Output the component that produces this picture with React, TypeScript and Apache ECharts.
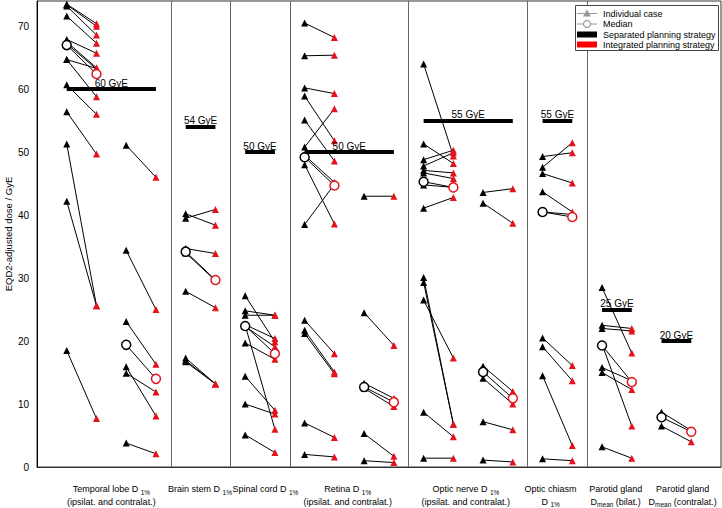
import React, { useEffect, useRef } from 'react';
import * as echarts from 'echarts';

// x position of the "separated" value in each group; the "integrated" value sits at +1
const groupPositions = [0, 2, 4, 6, 8, 10, 12, 14, 16, 18, 20];

// Individual cases: separated planning strategy (per group)
const separatedValues: number[][] = [
  [73.5, 73.4, 73.2, 71.6, 67.9, 67.5, 67.2, 64.7, 64.7, 60.7, 56.4, 51.3, 42.2, 18.5],
  [51.1, 34.4, 23.1, 15.9, 14.9, 3.8],
  [40.2, 39.5, 34.7, 34.0, 27.9, 17.3, 16.9, 16.7],
  [27.2, 24.8, 24.1, 22.6, 22.3, 22.5, 19.7, 14.4, 10.0, 5.1],
  [70.5, 65.3, 60.2, 58.9, 55.1, 50.8, 49.5, 48.0, 38.5, 23.3, 21.7, 21.2, 7.0, 2.0],
  [43.0, 24.5, 13.3, 12.5, 5.3, 1.0],
  [64.0, 51.3, 48.8, 47.8, 47.1, 46.7, 44.8, 41.1, 30.1, 29.3, 26.5, 8.7, 1.4],
  [43.6, 41.9, 16.0, 14.1, 7.2, 1.1],
  [49.3, 47.6, 46.6, 43.7, 40.5, 20.5, 19.1, 14.5, 1.3],
  [28.5, 22.5, 22.0, 19.5, 15.8, 15.0, 3.2],
  [8.7, 6.5],
];

// Individual cases: integrated planning strategy (same order)
const integratedValues: number[][] = [
  [70.4, 70.0, 68.6, 67.3, 65.7, 63.4, 63.2, 63.3, 58.8, 56.0, 49.7, 25.6, 25.6, 7.7],
  [46.0, 25.0, 16.3, 8.1, 11.9, 2.1],
  [38.4, 40.9, 33.9, 29.6, 25.3, 13.2, 13.2, 13.2],
  [19.9, 24.1, 24.1, 20.4, 19.1, 6.0, 17.1, 9.0, 8.4, 2.3],
  [68.2, 65.4, 59.3, 51.8, 48.6, 56.9, 45.2, 38.6, 44.9, 18.0, 15.1, 14.8, 4.7, 1.6],
  [43.0, 19.3, 10.9, 9.6, 1.7, 0.7],
  [49.4, 48.2, 50.3, 49.9, 46.7, 45.8, 44.4, 42.8, 6.8, 6.8, 17.3, 4.8, 1.4],
  [44.2, 38.7, 12.0, 10.0, 5.9, 0.8],
  [49.9, 51.5, 45.1, 40.5, 40.1, 16.1, 13.7, 3.4, 1.0],
  [18.1, 22.0, 21.6, 6.5, 13.7, 12.3, 1.4],
  [5.8, 4.0],
];

const medianSeparated = [67.0, 19.4, 34.2, 22.4, 49.2, 12.7, 45.3, 15.1, 40.5, 19.3, 7.9];
const medianIntegrated = [62.4, 14.0, 29.7, 18.0, 44.7, 10.3, 44.4, 10.9, 39.7, 13.5, 5.6];

const thresholdValues = [60, 54, 50, 50, 55, 55, 25, 20];
const thresholdFrom = [0, 4, 6, 8, 12, 16, 18, 20];
const thresholdTo = [3, 5, 7, 11, 15, 17, 19, 21];
const thresholdLabels = ['60 GyE', '54 GyE', '50 GyE', '50 GyE', '55 GyE', '55 GyE', '25 GyE', '20 GyE'];

const panelDividers = [3.5, 5.5, 7.5, 11.5, 15.5, 17.5];

const categoryCenters = [1.5, 4.48, 6.68, 9.45, 13.42, 16.27, 18.46, 20.71];
const categoryLabels = [
  'Temporal lobe D {s|1%}\n(ipsilat. and contralat.)',
  'Brain stem D {s|1%}',
  'Spinal cord D {s|1%}',
  'Retina D {s|1%}\n(ipsilat. and contralat.)',
  'Optic nerve D {s|1%}\n(ipsilat. and contralat.)',
  'Optic chiasm\nD {s|1%}',
  'Parotid gland\nD{s|mean} (bilat.)',
  'Parotid gland\nD{s|mean} (contralat.)',
];

const yAxisTitle = 'EQD2-adjusted dose / GyE';
const legendLabels = ['Individual case', 'Median', 'Separated planning strategy', 'Integrated planning strategy'];

const RED = '#e3121b';
const FONT = '"Liberation Sans", Arial, Helvetica, sans-serif';

export default function App() {
  const ref = useRef<HTMLDivElement>(null);

  useEffect(() => {
    if (!ref.current) return;
    const chart = echarts.init(ref.current, undefined, { renderer: 'svg' });

    const caseSeries: any[] = [];
    groupPositions.forEach((p, g) => {
      separatedValues[g].forEach((v, i) => {
        caseSeries.push({
          type: 'line',
          name: 'Individual case',
          data: [
            { value: [p, v], itemStyle: { color: '#000' } },
            { value: [p + 1, integratedValues[g][i]], itemStyle: { color: RED } },
          ],
          symbol: 'triangle',
          symbolSize: 7,
          lineStyle: { color: '#000', width: 1 },
          itemStyle: { color: '#000' },
          z: 3,
          silent: true,
        });
      });
    });

    const medianSeries: any[] = groupPositions.map((p, g) => ({
      type: 'line',
      name: 'Median',
      data: [
        { value: [p, medianSeparated[g]], itemStyle: { color: '#fff', borderColor: '#000' } },
        { value: [p + 1, medianIntegrated[g]], itemStyle: { color: '#fff', borderColor: RED } },
      ],
      symbol: 'circle',
      symbolSize: 9,
      lineStyle: { color: '#000', width: 1 },
      itemStyle: { borderWidth: 1.5 },
      z: 4,
      silent: true,
    }));

    const legendY = [13.5, 24, 34.5, 44.5];
    const lx = 577;
    const graphic: any[] = [
      {
        type: 'text',
        x: 8,
        y: 234,
        rotation: Math.PI / 2,
        style: { text: yAxisTitle, fontSize: 9.5, fontFamily: FONT, fill: '#000', align: 'center', verticalAlign: 'middle' },
      },
      { type: 'rect', shape: { x: 575.5, y: 5.5, width: 143, height: 45 }, style: { fill: '#fff', stroke: '#444', lineWidth: 1 }, z: 100 },
      { type: 'line', shape: { x1: lx, y1: legendY[0], x2: lx + 20, y2: legendY[0] }, style: { stroke: '#999', lineWidth: 1 }, z: 101 },
      { type: 'polygon', shape: { points: [[lx + 10, legendY[0] - 4], [lx + 14, legendY[0] + 3], [lx + 6, legendY[0] + 3]] }, style: { fill: '#999' }, z: 102 },
      { type: 'line', shape: { x1: lx, y1: legendY[1], x2: lx + 20, y2: legendY[1] }, style: { stroke: '#999', lineWidth: 1 }, z: 101 },
      { type: 'circle', shape: { cx: lx + 10, cy: legendY[1], r: 3.5 }, style: { fill: '#fff', stroke: '#999', lineWidth: 1.2 }, z: 102 },
      { type: 'rect', shape: { x: lx, y: legendY[2] - 3, width: 20, height: 6 }, style: { fill: '#000' }, z: 101 },
      { type: 'rect', shape: { x: lx, y: legendY[3] - 3, width: 20, height: 6 }, style: { fill: '#f00' }, z: 101 },
      ...legendLabels.map((t, i) => ({
        type: 'text',
        x: 603,
        y: legendY[i],
        z: 102,
        style: { text: t, fontSize: 9, fontFamily: FONT, fill: '#000', verticalAlign: 'middle', align: 'left' },
      })),
    ];

    chart.setOption({
      animation: false,
      backgroundColor: '#fff',
      textStyle: { fontFamily: FONT },
      grid: { left: 37, right: 1, top: 1, bottom: 41, show: true, borderColor: '#333', borderWidth: 1, outerBoundsMode: 'none' },
      xAxis: {
        type: 'value',
        min: -1,
        max: 22,
        splitLine: { show: false },
        axisTick: { show: false },
        axisLine: { show: true, onZero: false, lineStyle: { color: '#333', width: 1 } },
        axisLabel: {
          customValues: categoryCenters,
          margin: 16,
          fontSize: 9,
          color: '#000',
          lineHeight: 12.5,
          align: 'center',
          formatter: (v: number) => {
            const i = categoryCenters.findIndex((c) => Math.abs(c - v) < 1e-6);
            return i >= 0 ? categoryLabels[i] : '';
          },
          rich: {
            s: { fontSize: 6.5, lineHeight: 6.5, verticalAlign: 'bottom', color: '#000', fontFamily: FONT },
          },
        },
      },
      yAxis: {
        type: 'value',
        min: 0,
        max: 74,
        interval: 10,
        splitLine: { show: false },
        axisTick: { show: false },
        axisLine: { show: true, onZero: false, lineStyle: { color: '#000', width: 1 } },
        axisLabel: { fontSize: 10, color: '#000', margin: 8, showMaxLabel: false },
      },
      graphic,
      series: [
        ...caseSeries,
        ...medianSeries,
        {
          type: 'line',
          name: 'Thresholds',
          data: [],
          z: 5,
          markLine: {
            silent: true,
            symbol: ['none', 'none'],
            lineStyle: { color: '#000', width: 4, type: 'solid' },
            label: { show: true, position: 'insideMiddleTop', distance: 1, fontSize: 10, color: '#000', formatter: '{b}' },
            data: thresholdValues.map((v, i) => [
              { coord: [thresholdFrom[i], v], name: thresholdLabels[i] },
              { coord: [thresholdTo[i], v] },
            ]),
          },
        },
        {
          type: 'line',
          name: 'Dividers',
          data: [],
          z: 2,
          markLine: {
            silent: true,
            symbol: ['none', 'none'],
            lineStyle: { color: '#666', width: 1, type: 'solid' },
            label: { show: false },
            data: panelDividers.map((x) => ({ xAxis: x })),
          },
        },
      ],
    });

    return () => chart.dispose();
  }, []);

  return (
    <div
      ref={ref}
      style={{ position: 'fixed', left: 0, top: 0, width: 722, height: 508, background: '#fff' }}
    />
  );
}
